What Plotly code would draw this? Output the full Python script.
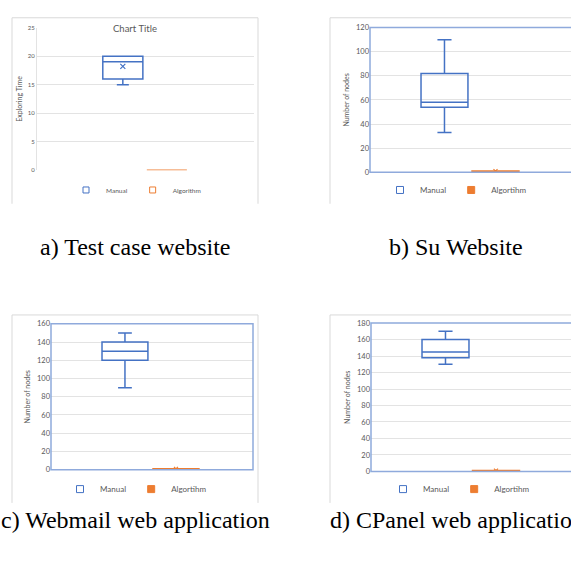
import plotly.graph_objects as go

W, H = 571, 562

# ---------------- data ----------------
panel_ids = ["a", "b", "c", "d"]
captions = ["a) Test case website", "b) Su Website",
            "c) Webmail web application", "d) CPanel web application"]
y_titles = ["Exploring Time", "Number of nodes", "Number of nodes", "Number of nodes"]
y_max = [25, 120, 160, 180]
y_dtick = [5, 20, 20, 20]
categories = ["Manual", "Algorithm"]
manual_name = "Manual"
algo_names = ["Algorithm", "Algortihm", "Algortihm", "Algortihm"]

manual_q1 = [16, 54, 120, 138]
manual_median = [19, 58, 130, 145]
manual_q3 = [20, 82, 140, 160]
manual_low = [15, 33, 90, 130]
manual_high = [20, 110, 150, 170]
manual_mean = [18.2, None, None, None]

algo_q1 = [0, 0, 0, 0]
algo_median = [0, 0, 0, 0]
algo_q3 = [0, 1, 1, 1]
algo_low = [0, 0, 0, 0]
algo_high = [0, 1, 1, 1]
algo_mean = [None, 1, 1, 1]

# ---------------- layout (pixel geometry) ----------------
BLUE = "#4472C4"
ORANGE = "#ED7D31"
BORDER_BLUE = "#8FAADC"
GRID = "#E3E3E3"
TXT = "#595959"
FONT = "Lato"

def px_x(v):
    return v / W

def px_y(v):
    return 1 - v / H

plot_px = [  # x0, x1, ytop, ybottom
    (37, 254, 24, 169),
    (370, 571, 24, 171),
    (51, 253, 325, 473.3),
    (371, 571, 324.3, 475),
]
x_ranges = [(-1.95, 2.98), (-1.46, 2.48), (-1.45, 2.51), (-1.475, 2.485)]
box_w = [0.91, 0.92, 0.90, 0.93]
tick_size = [6, 7.5, 7.5, 7.5]
title_standoff = [4, 5, 5, 5]
chart_px = [  # left, top, right, bottom of chart area border
    (12, 14, 258, 203),
    (330, 14, 620, 203),
    (12, 316, 258, 507),
    (330, 316, 620, 507),
]
legend_pos = [(136, 189), (456, 189), (136, 493), (459, 493)]
legend_font = [6.5, 8, 8, 8]
caption_pos = [(135, 247), (456, 247), (135.5, 524), (457, 524)]

fig = go.Figure()
layout = {}
shapes = []
annotations = []

for i in range(4):
    n = "" if i == 0 else str(i + 1)
    xa, ya = "x" + n, "y" + n
    lg = "legend" + n
    x0, x1, yt, yb = plot_px[i]
    layout["xaxis" + n] = dict(
        domain=[px_x(x0), min(1.0, px_x(x1))], anchor=ya, type="category",
        categoryorder="array", categoryarray=categories,
        range=list(x_ranges[i]), showticklabels=False, showgrid=False,
        zeroline=False, showline=False, ticks="", fixedrange=True)
    layout["yaxis" + n] = dict(
        domain=[px_y(yb), px_y(yt)], anchor=xa, range=[0, y_max[i]],
        dtick=y_dtick[i], tick0=0, showgrid=True, gridcolor=GRID, gridwidth=1,
        zeroline=False, showline=(i == 0), linecolor=GRID, ticks="",
        tickfont=dict(family=FONT, size=tick_size[i], color=TXT),
        title=dict(text=y_titles[i], font=dict(family=FONT, size=7, color=TXT),
                   standoff=title_standoff[i]),
        fixedrange=True)

    # Manual box
    fig.add_trace(go.Box(
        x=[categories[0]], q1=[manual_q1[i]], median=[manual_median[i]],
        q3=[manual_q3[i]], lowerfence=[manual_low[i]], upperfence=[manual_high[i]],
        width=box_w[i], whiskerwidth=0.3, line=dict(color=BLUE, width=1.5),
        fillcolor="rgba(255,255,255,0)", boxpoints=False, name=manual_name,
        showlegend=False, xaxis=xa, yaxis=ya, hoverinfo="skip"))
    # Algorithm box
    fig.add_trace(go.Box(
        x=[categories[1]], q1=[algo_q1[i]], median=[algo_median[i]],
        q3=[algo_q3[i]], lowerfence=[algo_low[i]], upperfence=[algo_high[i]],
        width=box_w[i], whiskerwidth=0.3, line=dict(color=ORANGE, width=1.5),
        fillcolor=ORANGE if i > 0 else "rgba(255,255,255,0)", boxpoints=False,
        name=algo_names[i], showlegend=False, xaxis=xa, yaxis=ya, hoverinfo="skip"))
    # mean markers
    if manual_mean[i] is not None:
        fig.add_trace(go.Scatter(
            x=[categories[0]], y=[manual_mean[i]], mode="markers",
            marker=dict(symbol="x-thin", size=5, line=dict(color=BLUE, width=1.2)),
            showlegend=False, xaxis=xa, yaxis=ya, hoverinfo="skip"))
    if algo_mean[i] is not None:
        fig.add_trace(go.Scatter(
            x=[categories[1]], y=[algo_mean[i]], mode="markers",
            marker=dict(symbol="x-thin", size=4, line=dict(color=ORANGE, width=1.2)),
            showlegend=False, xaxis=xa, yaxis=ya, hoverinfo="skip"))
    # legend entries
    msize = 6 if i == 0 else 7
    fig.add_trace(go.Scatter(
        x=[None], y=[None], mode="markers", name=manual_name, legend=lg,
        marker=dict(symbol="square", size=msize, color="white",
                    line=dict(color=BLUE, width=1)),
        xaxis=xa, yaxis=ya))
    fig.add_trace(go.Scatter(
        x=[None], y=[None], mode="markers", name=algo_names[i], legend=lg,
        marker=dict(symbol="square", size=msize,
                    color="white" if i == 0 else ORANGE,
                    line=dict(color=ORANGE, width=1)),
        xaxis=xa, yaxis=ya))
    lx, ly = legend_pos[i]
    layout[lg] = dict(
        orientation="h", x=px_x(lx), y=px_y(ly), xanchor="center", yanchor="middle",
        font=dict(family=FONT, size=legend_font[i], color=TXT),
        bgcolor="rgba(0,0,0,0)", itemwidth=30, tracegroupgap=0)

    # chart area border (open at bottom, cropped)
    cl, ct, cr, cb = chart_px[i]
    shapes.append(dict(
        type="path", xref="paper", yref="paper", layer="below",
        path=f"M {px_x(cl)},{px_y(cb)} L {px_x(cl)},{px_y(ct)} L {px_x(cr)},{px_y(ct)} L {px_x(cr)},{px_y(cb)}",
        line=dict(color="#D9D9D9", width=1)))
    # plot area border for b, c, d
    if i > 0:
        shapes.append(dict(
            type="rect", xref="paper", yref="paper", layer="above",
            x0=px_x(x0), x1=px_x(x1 + (30 if x1 >= 571 else 0)),
            y0=px_y(yb), y1=px_y(yt),
            line=dict(color=BORDER_BLUE, width=1.5), fillcolor="rgba(0,0,0,0)"))

    cx, cy = caption_pos[i]
    annotations.append(dict(
        text=captions[i], xref="paper", yref="paper", x=px_x(cx), y=px_y(cy),
        xanchor="center", yanchor="middle", showarrow=False,
        font=dict(family="Liberation Serif", size=24, color="black")))

annotations.append(dict(
    text="Chart Title", xref="paper", yref="paper", x=px_x(135), y=px_y(25),
    xanchor="center", yanchor="middle", showarrow=False,
    font=dict(family=FONT, size=9.5, color=TXT)))

fig.update_layout(
    width=W, height=H, margin=dict(l=0, r=0, t=0, b=0),
    paper_bgcolor="white", plot_bgcolor="white",
    shapes=shapes, annotations=annotations, **layout)

fig.write_html(
    "out.html",
    config={"displayModeBar": False},
    post_script="document.body.style.margin='0';document.body.style.overflow='hidden';")
